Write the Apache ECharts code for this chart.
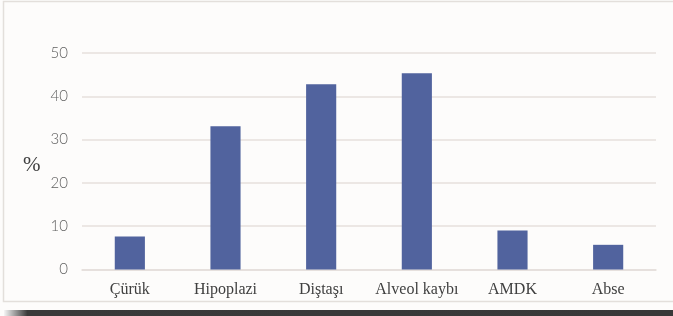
<!DOCTYPE html>
<html><head><meta charset="utf-8">
<script src="https://cdn.jsdelivr.net/npm/echarts@6/dist/echarts.min.js"></script>
<style>html,body{margin:0;padding:0;background:#fdfcfb;}#c{width:673px;height:316px;}</style>
</head><body><div id="c"></div>
<script>
const categories = ['Çürük', 'Hipoplazi', 'Diştaşı', 'Alveol kaybı', 'AMDK', 'Abse'];
const values = [7.6, 33.1, 42.8, 45.3, 9.0, 5.7];
const yTicks = { min: 0, max: 50, interval: 10 };
const yName = '%';

const chart = echarts.init(document.getElementById('c'), null, { renderer: 'canvas' });
chart.setOption({
  backgroundColor: '#fdfcfb',
  animation: false,
  grid: { left: 82, right: 17, top: 53, bottom: 46.5, containLabel: false },
  graphic: [
    { type: 'rect', z: -10, shape: { x: 3.5, y: 1.5, width: 700, height: 300 },
      style: { fill: 'transparent', stroke: '#e3dfdb', lineWidth: 1.5 } },
    { type: 'rect', z: -10, shape: { x: 4, y: 310, width: 669, height: 6 },
      style: { fill: new echarts.graphic.LinearGradient(0, 0, 1, 0, [
        { offset: 0, color: '#f5f5f5' }, { offset: 0.035, color: '#3a3a3a' }, { offset: 1, color: '#383838' }]) } },
    { type: 'text', left: 23, top: 155, style: { text: yName, font: '21px "Liberation Serif"', fill: '#404040' } }
  ],
  xAxis: {
    type: 'category', data: categories,
    axisLine: { show: true, lineStyle: { color: '#e3deda', width: 1.5 } },
    axisTick: { show: false },
    axisLabel: { interval: 0, color: '#404040', fontFamily: 'Liberation Serif', fontSize: 16, margin: 12 }
  },
  yAxis: {
    type: 'value', min: yTicks.min, max: yTicks.max, interval: yTicks.interval,
    axisLine: { show: false }, axisTick: { show: false },
    splitLine: { lineStyle: { color: '#e6e1dd', width: 1.5 } },
    axisLabel: { color: '#616161', fontFamily: 'Lato', fontWeight: 300, fontSize: 15, margin: 14 }
  },
  series: [{
    type: 'bar', data: values, barWidth: '31.5%',
    itemStyle: { color: '#51639e' }
  }]
});
</script></body></html>
